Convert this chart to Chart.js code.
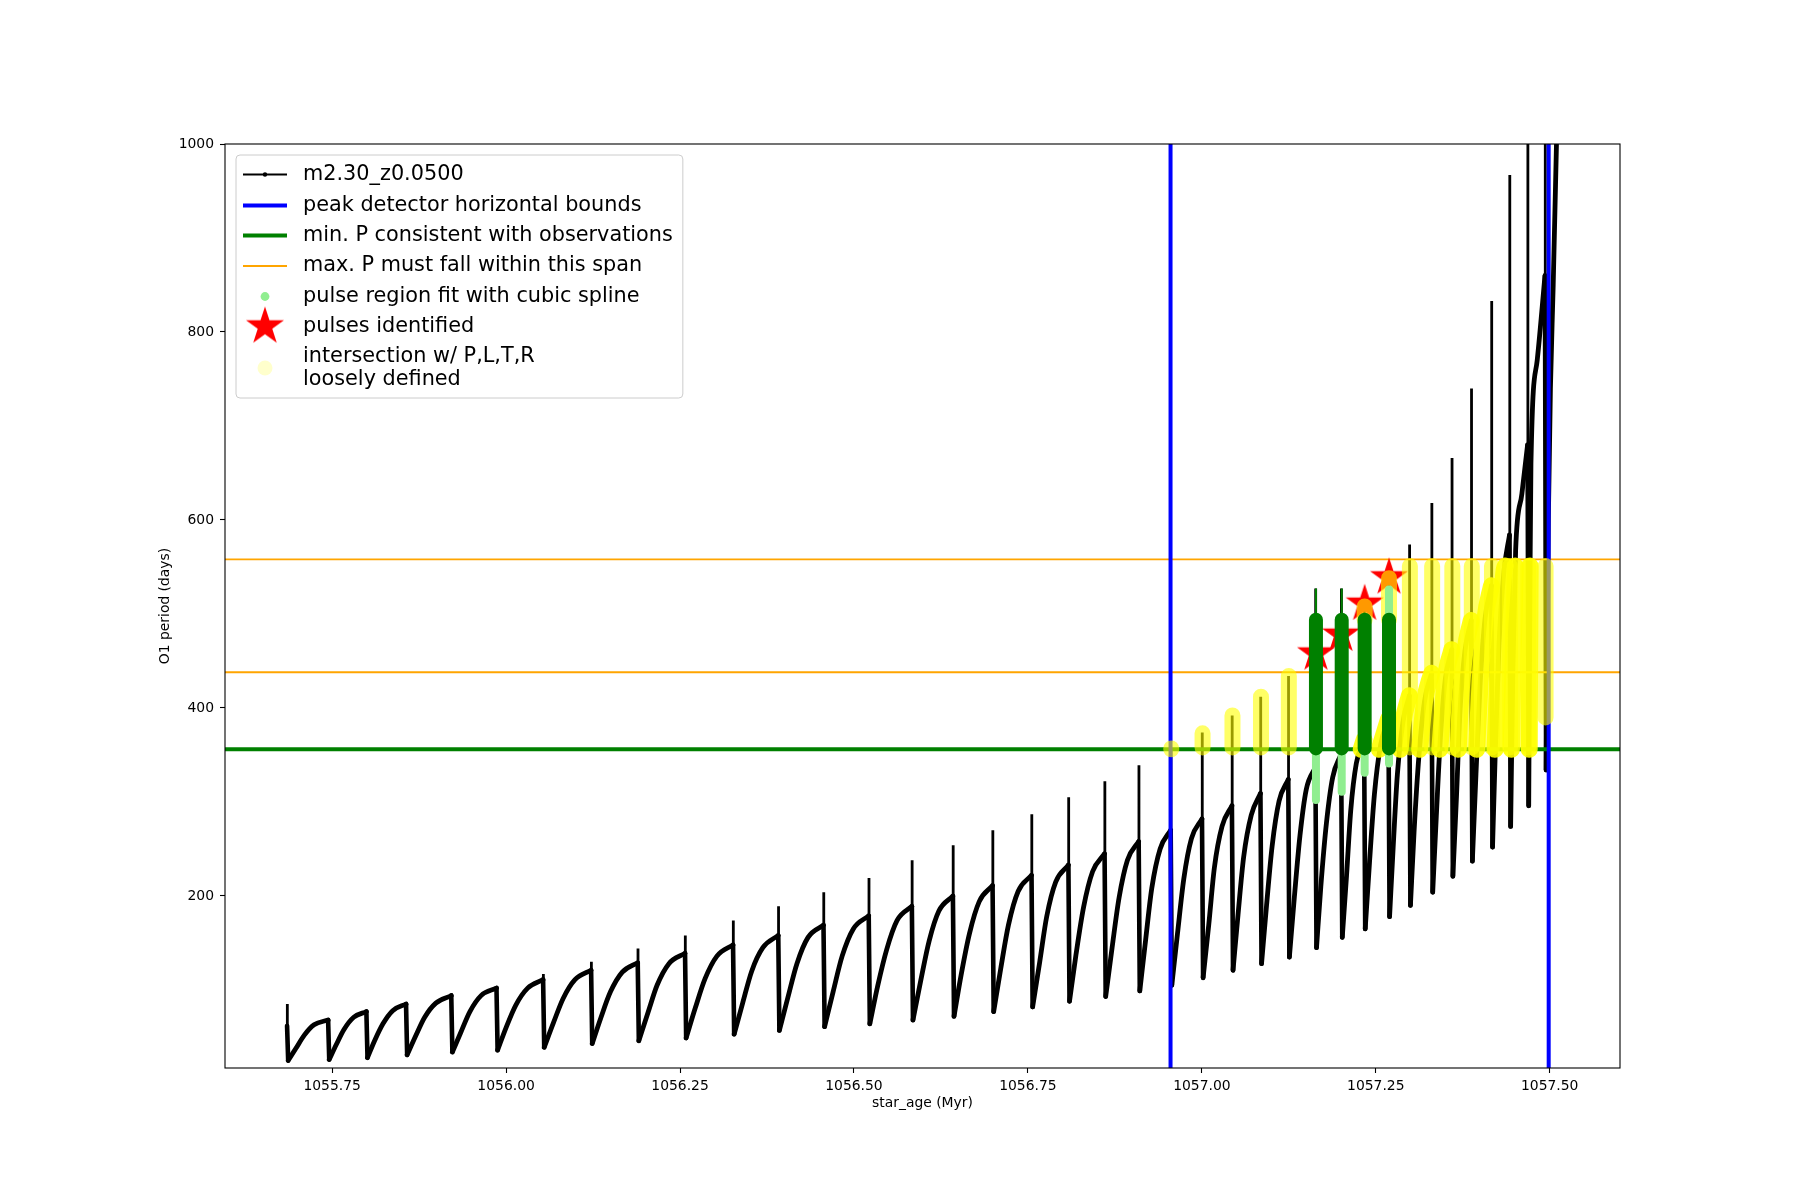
<!DOCTYPE html>
<html>
<head>
<meta charset="utf-8">
<title>O1 period vs star age</title>
<script src="https://cdn.jsdelivr.net/npm/chart.js@4.4.0/dist/chart.umd.min.js"></script>
<style>
  html, body { margin: 0; padding: 0; background: #fff; }
  #wrap { width: 1800px; height: 1200px; position: relative; }
</style>
</head>
<body>
<div id="wrap"><canvas id="periodChart"></canvas></div>
<script>
// axes
var xMin = 1055.596, xMax = 1057.601;
var yMin = 17, yMax = 1000;
var xTicks = [1055.75, 1056.00, 1056.25, 1056.50, 1056.75, 1057.00, 1057.25, 1057.50];
var yTicks = [200, 400, 600, 800, 1000];

// black track, one entry per pulse (age of the drop, P just before, spike top, P just after)
var dropAge = [1055.686, 1055.745, 1055.800, 1055.857, 1055.922, 1055.987, 1056.054, 1056.123, 1056.190, 1056.258,
               1056.327, 1056.392, 1056.457, 1056.522, 1056.584, 1056.643, 1056.700, 1056.756, 1056.809, 1056.861,
               1056.910, 1056.956, 1057.001, 1057.044, 1057.085, 1057.125, 1057.164, 1057.201, 1057.234, 1057.269,
               1057.299, 1057.331, 1057.360, 1057.388, 1057.417, 1057.443, 1057.469, 1057.494];
var maxBefore = [62, 68, 77, 85, 94, 102, 111, 121, 129, 139,
                 148, 158, 169, 179, 189, 200, 211, 222, 233, 245,
                 258, 270, 282, 296, 309, 324, 337, 351, 366, 388,
                 413, 437, 462, 493, 530, 584, 680, 860];
var spikeTop = [85, 70, 78, 86, 96, 104, 117, 130, 144, 158,
                174, 189, 204, 219, 238, 254, 270, 287, 305, 322,
                339, 356, 374, 392, 412, 434, 527, 527, 515, 545,
                574, 618, 666, 740, 833, 967, 1010, 1010];
var minAfter = [25, 26, 28, 31, 34, 36, 39, 43, 46, 49,
                53, 57, 61, 64, 68, 72, 77, 82, 88, 93,
                99, 105, 113, 121, 128, 135, 145, 156, 165, 178,
                190, 204, 221, 237, 252, 274, 296, 334];
// points read along each rise after a drop
var riseAge = [
  [1055.698, 1055.710, 1055.724], [1055.756, 1055.767, 1055.781], [1055.811, 1055.823, 1055.837],
  [1055.870, 1055.883, 1055.899], [1055.935, 1055.948, 1055.964], [1056.000, 1056.014, 1056.031],
  [1056.068, 1056.082, 1056.099], [1056.136, 1056.150, 1056.167], [1056.204, 1056.217, 1056.234],
  [1056.272, 1056.286, 1056.303], [1056.340, 1056.353, 1056.369], [1056.405, 1056.418, 1056.434],
  [1056.470, 1056.483, 1056.499], [1056.534, 1056.547, 1056.562], [1056.596, 1056.608, 1056.622],
  [1056.654, 1056.666, 1056.680], [1056.711, 1056.722, 1056.736], [1056.767, 1056.777, 1056.790],
  [1056.819, 1056.830, 1056.843], [1056.871, 1056.881, 1056.893], [1056.919, 1056.928, 1056.940],
  [1056.965, 1056.974, 1056.985], [1057.010, 1057.018, 1057.029], [1057.052, 1057.060, 1057.071],
  [1057.093, 1057.101, 1057.111], [1057.133, 1057.141, 1057.150], [1057.171, 1057.179, 1057.188],
  [1057.208, 1057.214, 1057.222], [1057.241, 1057.248, 1057.257], [1057.275, 1057.281, 1057.289],
  [1057.305, 1057.312, 1057.320], [1057.337, 1057.343, 1057.350], [1057.366, 1057.371, 1057.378],
  [1057.394, 1057.400, 1057.407], [1057.422, 1057.427, 1057.434], [1057.447, 1057.451, 1057.460],
  [1057.4715, 1057.473, 1057.482], [1057.498, 1057.501, 1057.505]
];
var riseP = [
  [38, 52, 63], [42, 58, 71], [46, 64, 78], [51, 71, 86], [55, 77, 94], [60, 84, 102],
  [65, 91, 111], [70, 98, 119], [76, 105, 128], [81, 112, 136], [86, 120, 145], [92, 128, 156],
  [98, 136, 165], [104, 143, 174], [110, 152, 184], [116, 160, 194], [123, 169, 205], [130, 178, 215],
  [137, 188, 226], [145, 198, 238], [152, 208, 250], [160, 218, 261], [170, 230, 274], [180, 241, 286],
  [190, 253, 301], [199, 264, 313], [210, 277, 326], [222, 291, 341], [236, 308, 361], [252, 329, 385],
  [268, 349, 407], [285, 370, 431], [306, 396, 460], [330, 426, 495], [360, 466, 544], [440, 568, 628],
  [520, 660, 770], [600, 740, 850]
];
var endAge = 1057.510, endP = 1010;

// reference lines
var boundAges = [1056.955, 1057.4985];
var minPeriod = 356;
var spanP = [438, 558];

// pulses identified
var starAge = [1057.164, 1057.200, 1057.234, 1057.269];
var starP = [459, 479, 512, 540];

// spline fit regions
var fitAge = [1057.164, 1057.201, 1057.234, 1057.269];
var fitLow = [357, 357, 357, 357];
var fitHigh = [494, 494, 494, 494];
var tipAge = [1057.164, 1057.201];
var tipLow = [494, 494];
var tipHigh = [527, 527];
var lightAge = [1057.164, 1057.201, 1057.234, 1057.269, 1057.269];
var lightLow = [302, 311, 331, 341, 500];
var lightHigh = [356, 356, 356, 356, 526];

// loosely defined intersection, on spikes and on rises
var yellowAge = [1056.956, 1057.001, 1057.044, 1057.085, 1057.125, 1057.234, 1057.269, 1057.299,
                 1057.331, 1057.360, 1057.388, 1057.417, 1057.443, 1057.469, 1057.494];
var yellowLow = [356, 358, 358, 358, 358, 494, 494, 358, 358, 358, 358, 358, 358, 358, 390];
var yellowHigh = [357, 373, 392, 412, 434, 508, 538, 551, 551, 551, 551, 551, 551, 551, 551];
var humpAge = [
  [1057.229, 1057.2332], [1057.255, 1057.257, 1057.2682], [1057.285, 1057.289, 1057.2982],
  [1057.313, 1057.320, 1057.3302], [1057.342, 1057.350, 1057.3592], [1057.3685, 1057.371, 1057.378, 1057.3872],
  [1057.395, 1057.400, 1057.407, 1057.4162], [1057.4215, 1057.427, 1057.434, 1057.436],
  [1057.445, 1057.447, 1057.4505], [1057.4705, 1057.4718]
];
var humpP = [
  [356, 366], [356, 361, 388], [356, 385, 413], [356, 407, 437], [356, 431, 462], [356, 398, 460, 493],
  [356, 428, 495, 530], [356, 468, 544, 551], [356, 440, 551], [356, 551]
];

var legendLabels = ['m2.30_z0.0500', 'peak detector horizontal bounds', 'min. P consistent with observations',
  'max. P must fall within this span', 'pulse region fit with cubic spline', 'pulses identified',
  ['intersection w/ P,L,T,R', 'loosely defined']];

// ---- build point lists ----
var spikePts = [], dropPts = [], rises = [];
for (var i = 0; i < dropAge.length; i++) {
  var d = dropAge[i];
  spikePts.push({x: d - 0.0004, y: maxBefore[i]}, {x: d - 0.0004, y: spikeTop[i]}, {x: d, y: null});
  dropPts.push({x: d - 0.0008, y: maxBefore[i]}, {x: d + 0.0008, y: minAfter[i]}, {x: d + 0.0008, y: null});
  var r = [{x: d + 0.0008, y: minAfter[i]}];
  for (var k = 0; k < riseAge[i].length; k++) r.push({x: riseAge[i][k], y: riseP[i][k]});
  if (i + 1 < dropAge.length) r.push({x: dropAge[i + 1] - 0.0008, y: maxBefore[i + 1]});
  else r.push({x: endAge, y: endP});
  rises.push(r);
}

function segPts(ages, lows, highs) {
  var pts = [];
  for (var i = 0; i < ages.length; i++) {
    pts.push({x: ages[i], y: lows[i]}, {x: ages[i], y: highs[i]}, {x: ages[i], y: null});
  }
  return pts;
}

var boundPts = [];
boundAges.forEach(function (b) {
  boundPts.push({x: b, y: yMin}, {x: b, y: yMax}, {x: b, y: null});
});
var spanPts = [];
spanP.forEach(function (p) {
  spanPts.push({x: xMin, y: p}, {x: xMax, y: p}, {x: xMax, y: null});
});

// filled 5-point star like matplotlib '*'
var starImg = document.createElement('canvas');
starImg.width = 44; starImg.height = 44;
(function () {
  var c = starImg.getContext('2d');
  var R = 20, r = 20 * 0.382;
  c.beginPath();
  for (var j = 0; j < 10; j++) {
    var a = -Math.PI / 2 + j * Math.PI / 5;
    var rad = j % 2 === 0 ? R : r;
    c.lineTo(22 + rad * Math.cos(a), 23 + rad * Math.sin(a));
  }
  c.closePath();
  c.fillStyle = '#ff0000';
  c.fill();
})();

var lineBase = {showLine: true, pointRadius: 0, pointHoverRadius: 0, clip: 0, tension: 0};

var datasets = [
  Object.assign({}, lineBase, {label: 'spikes', data: spikePts, order: 10, borderColor: '#000000', borderWidth: 2.8}),
  Object.assign({}, lineBase, {label: 'drops', data: dropPts, order: 10, borderColor: '#000000', borderWidth: 4.6,
    borderCapStyle: 'round'}),
  Object.assign({}, lineBase, {label: 'minP', data: [{x: xMin, y: minPeriod}, {x: xMax, y: minPeriod}],
    order: 9, borderColor: '#008000', borderWidth: 4}),
  Object.assign({}, lineBase, {label: 'span', data: spanPts, order: 9, borderColor: '#ffa500', borderWidth: 1.8}),
  Object.assign({}, lineBase, {label: 'bounds', data: boundPts, order: 8, borderColor: '#0000ff', borderWidth: 4}),
  {label: 'pulses', data: starAge.map(function (a, j) { return {x: a, y: starP[j]}; }), order: 7,
    showLine: false, pointStyle: starImg, pointRadius: 20, pointHoverRadius: 20},
  Object.assign({}, lineBase, {label: 'yellowSpikes', data: segPts(yellowAge, yellowLow, yellowHigh), order: 6,
    borderColor: 'rgba(255,255,0,0.6)', borderWidth: 16, borderCapStyle: 'round'}),
  Object.assign({}, lineBase, {label: 'light', data: segPts(lightAge, lightLow, lightHigh), order: 4,
    borderColor: '#90ee90', borderWidth: 8, borderCapStyle: 'round'}),
  Object.assign({}, lineBase, {label: 'fit', data: segPts(fitAge, fitLow, fitHigh), order: 3,
    borderColor: '#008000', borderWidth: 14, borderCapStyle: 'round'}),
  Object.assign({}, lineBase, {label: 'tip', data: segPts(tipAge, tipLow, tipHigh), order: 3,
    borderColor: '#008000', borderWidth: 2})
];
rises.forEach(function (pts, n) {
  datasets.push(Object.assign({}, lineBase, {
    label: 'rise' + n, data: pts, order: 10,
    borderColor: '#000000', borderWidth: 4.8,
    borderCapStyle: 'round', borderJoinStyle: 'round', cubicInterpolationMode: 'monotone'
  }));
});
humpAge.forEach(function (ages, h) {
  datasets.push(Object.assign({}, lineBase, {
    label: 'hump' + h, order: 5,
    data: ages.map(function (a, j) { return {x: a, y: humpP[h][j]}; }),
    borderColor: 'rgba(255,255,0,0.9)', borderWidth: 17,
    borderCapStyle: 'round', borderJoinStyle: 'round', cubicInterpolationMode: 'monotone'
  }));
});

// spines and the boxed legend inside the axes
var framePlugin = {
  id: 'frameAndLegend',
  afterDraw: function (chart) {
    var ctx = chart.ctx, a = chart.chartArea;
    ctx.save();
    ctx.strokeStyle = '#000';
    ctx.lineWidth = 1.1;
    ctx.strokeRect(a.left, a.top, a.right - a.left, a.bottom - a.top);

    ctx.font = '20.8px "DejaVu Sans"';
    var textX = 303, maxW = 0;
    legendLabels.forEach(function (t) {
      [].concat(t).forEach(function (s) { maxW = Math.max(maxW, ctx.measureText(s).width); });
    });
    var bl = 236, bt = 155, br = textX + maxW + 10, bb = 398, rr = 4;
    ctx.beginPath();
    ctx.moveTo(bl + rr, bt); ctx.lineTo(br - rr, bt); ctx.quadraticCurveTo(br, bt, br, bt + rr);
    ctx.lineTo(br, bb - rr); ctx.quadraticCurveTo(br, bb, br - rr, bb);
    ctx.lineTo(bl + rr, bb); ctx.quadraticCurveTo(bl, bb, bl, bb - rr);
    ctx.lineTo(bl, bt + rr); ctx.quadraticCurveTo(bl, bt, bl + rr, bt);
    ctx.closePath();
    ctx.fillStyle = 'rgba(255,255,255,0.8)';
    ctx.fill();
    ctx.strokeStyle = '#cccccc';
    ctx.lineWidth = 1;
    ctx.stroke();

    var rowY = [174.5, 205.5, 235.5, 266, 296.5, 326.5, 368];
    var hx0 = 243, hx1 = 287, hc = 265;
    function hline(y, color, w) {
      ctx.beginPath(); ctx.moveTo(hx0, y); ctx.lineTo(hx1, y);
      ctx.strokeStyle = color; ctx.lineWidth = w; ctx.lineCap = 'butt'; ctx.stroke();
    }
    hline(rowY[0], '#000', 2);
    ctx.beginPath(); ctx.arc(hc, rowY[0], 2.2, 0, Math.PI * 2); ctx.fillStyle = '#000'; ctx.fill();
    hline(rowY[1], '#0000ff', 4);
    hline(rowY[2], '#008000', 4);
    hline(rowY[3], '#ffa500', 1.8);
    ctx.beginPath(); ctx.arc(hc, rowY[4], 4.4, 0, Math.PI * 2); ctx.fillStyle = '#90ee90'; ctx.fill();
    ctx.drawImage(starImg, hc - 22, rowY[5] - 23);
    ctx.beginPath(); ctx.arc(hc, rowY[6], 7.5, 0, Math.PI * 2); ctx.fillStyle = 'rgba(255,255,0,0.2)'; ctx.fill();

    ctx.fillStyle = '#000';
    ctx.textAlign = 'left';
    ctx.textBaseline = 'middle';
    for (var r = 0; r < 6; r++) ctx.fillText(legendLabels[r], textX, rowY[r]);
    ctx.fillText(legendLabels[6][0], textX, 356.5);
    ctx.fillText(legendLabels[6][1], textX, 379.5);
    ctx.restore();
  }
};

Chart.defaults.font.family = '"DejaVu Sans"';
Chart.defaults.color = '#000';

new Chart(document.getElementById('periodChart'), {
  type: 'scatter',
  data: {datasets: datasets},
  options: {
    responsive: true,
    maintainAspectRatio: false,
    devicePixelRatio: 1,
    animation: false,
    events: [],
    layout: {padding: {left: 0, right: 180, top: 144, bottom: 0}},
    plugins: {legend: {display: false}, tooltip: {enabled: false}},
    scales: {
      x: {
        type: 'linear', position: 'bottom', min: xMin, max: xMax,
        afterBuildTicks: function (s) { s.ticks = xTicks.map(function (v) { return {value: v}; }); },
        afterFit: function (s) { s.height = 132; },
        ticks: {autoSkip: false, maxRotation: 0, padding: 5, font: {size: 13.9}, color: '#000',
          callback: function (v) { return Number(v).toFixed(2); }},
        grid: {display: true, drawOnChartArea: false, drawTicks: true, tickLength: 5, tickColor: '#000', tickWidth: 1.1},
        border: {display: false},
        title: {display: true, text: 'star_age (Myr)', font: {size: 13.9}, color: '#000', padding: {top: 0, bottom: 88}}
      },
      y: {
        type: 'linear', position: 'left', min: yMin, max: yMax,
        afterBuildTicks: function (s) { s.ticks = yTicks.map(function (v) { return {value: v}; }); },
        afterFit: function (s) { s.width = 225; },
        ticks: {autoSkip: false, padding: 6, font: {size: 13.9}, color: '#000',
          callback: function (v) { return String(v); }},
        grid: {display: true, drawOnChartArea: false, drawTicks: true, tickLength: 5, tickColor: '#000', tickWidth: 1.1},
        border: {display: false},
        title: {display: true, text: 'O1 period (days)', font: {size: 13.9}, color: '#000', padding: {top: 157, bottom: 0}}
      }
    }
  },
  plugins: [framePlugin]
});
</script>
</body>
</html>
